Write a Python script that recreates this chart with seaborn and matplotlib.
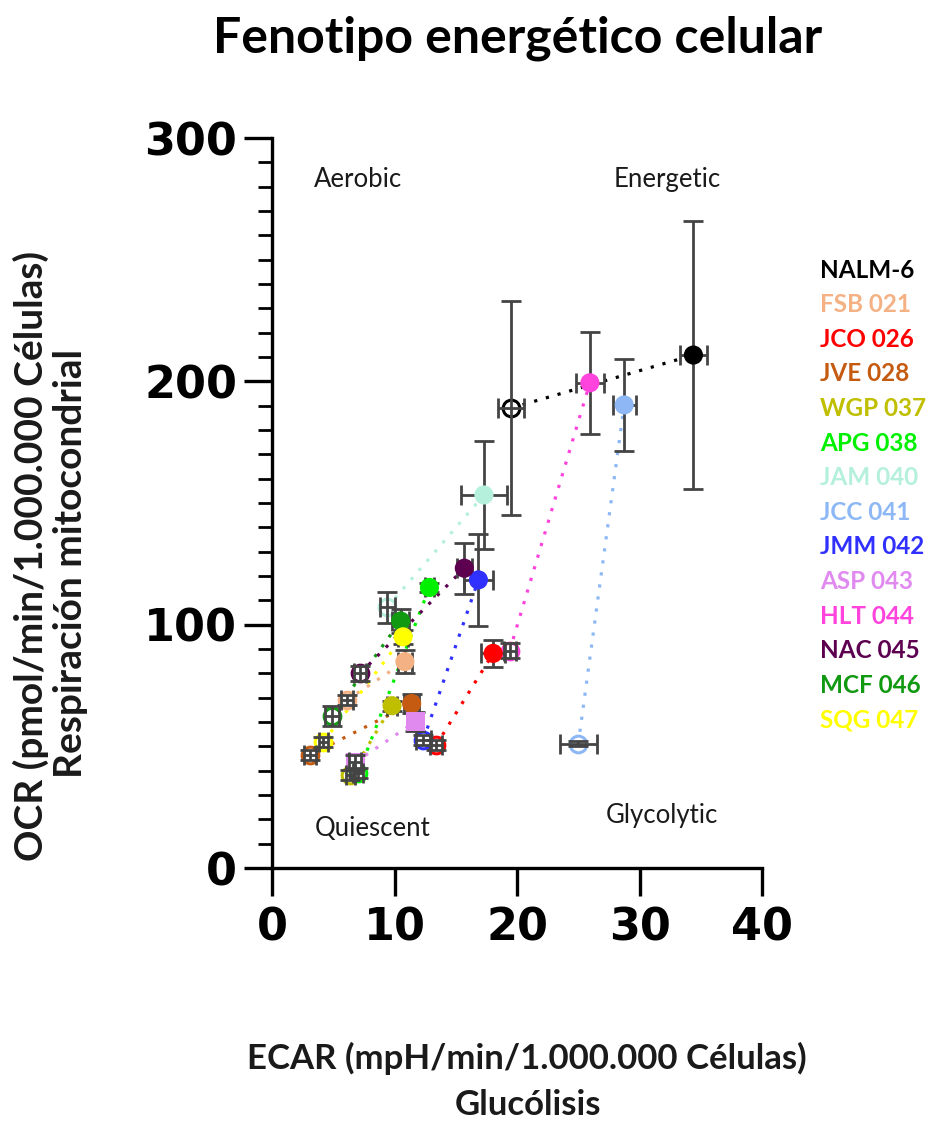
import numpy as np
import pandas as pd
import matplotlib
matplotlib.use("Agg")
import matplotlib.pyplot as plt
import seaborn as sns

# ---- data ----
lineas = ["NALM-6", "FSB 021", "JCO 026", "JVE 028", "WGP 037", "APG 038", "JAM 040",
          "JCC 041", "JMM 042", "ASP 043", "HLT 044", "NAC 045", "MCF 046", "SQG 047"]
colores = ["#000000", "#F4B183", "#FF0000", "#C55A11", "#BFBF00", "#00F000", "#B4F0DC",
           "#8DB8F5", "#3030FF", "#E08AF0", "#FF44DD", "#5C004F", "#119911", "#FFFF00"]
marcadores = ["o", "o", "o", "o", "o", "o", "o", "o", "o", "s", "o", "o", "o", "o"]

# basal (open markers)
ecar_basal = [19.5, 6.1, 13.4, 3.1, 6.4, 7.05, 9.4, 25.0, 12.35, 6.8, 19.4, 7.2, 4.9, 4.2]
ocr_basal = [189.0, 69.0, 50.5, 46.4, 38.2, 38.9, 107.1, 51.0, 52.6, 43.5, 89.3, 80.0, 62.5, 51.9]
ecar_basal_err = [1.05, 0.5, 0.5, 0.5, 0.4, 0.4, 0.6, 1.5, 0.6, 0.5, 0.5, 0.5, 0.6, 0.4]
ocr_basal_err = [44.0, 2.0, 2.0, 2.0, 2.0, 2.0, 6.5, 1.0, 2.0, 3.0, 3.0, 3.0, 4.0, 2.0]

# stressed (filled markers)
ecar_estres = [34.4, 10.85, 18.05, 11.4, 9.8, 12.85, 17.3, 28.75, 16.85, 11.7, 25.95, 15.7, 10.5, 10.7]
ocr_estres = [210.8, 84.8, 88.2, 67.6, 66.7, 115.3, 153.3, 190.3, 118.4, 60.1, 199.4, 123.2, 101.5, 95.0]
ecar_estres_err = [1.1, 0.6, 0.95, 0.6, 0.4, 0.4, 1.9, 0.95, 1.2, 0.6, 1.15, 0.6, 0.7, 0.4]
ocr_estres_err = [55.0, 4.8, 5.6, 4.0, 2.0, 2.0, 22.0, 19.0, 19.0, 4.0, 21.0, 10.5, 5.0, 3.0]

x_ticks = [0, 10, 20, 30, 40]
y_ticks = [0, 100, 200, 300]

titulo = "Fenotipo energético celular"
xlab = ["ECAR (mpH/min/1.000.000 Células)", "Glucólisis"]
ylab = ["OCR (pmol/min/1.000.000 Células)", "Respiración mitocondrial"]
cuadrantes = [("Aerobic", 7.0, 282.8), ("Energetic", 32.3, 282.8),
              ("Quiescent", 8.2, 16.4), ("Glycolytic", 31.8, 21.4)]

# ---- style ----
sns.set_style("ticks")
plt.rcParams["font.family"] = ["Lato", "DejaVu Sans"]
plt.rcParams["text.color"] = "black"
plt.rcParams["xtick.color"] = "black"
plt.rcParams["ytick.color"] = "black"

fig = plt.figure(figsize=(9.33, 11.23), dpi=100)
ax = fig.add_axes([272 / 933, 1 - 868 / 1123, 490 / 933, 730 / 1123])

pal = dict(zip(lineas, colores))
mk = dict(zip(lineas, marcadores))

df = pd.DataFrame({
    "linea": lineas,
    "ecar_b": ecar_basal, "ocr_b": ocr_basal,
    "ecar_b_err": ecar_basal_err, "ocr_b_err": ocr_basal_err,
    "ecar_e": ecar_estres, "ocr_e": ocr_estres,
    "ecar_e_err": ecar_estres_err, "ocr_e_err": ocr_estres_err,
})

long = pd.concat([
    pd.DataFrame({"linea": lineas, "ECAR": ecar_basal, "OCR": ocr_basal, "orden": 0}),
    pd.DataFrame({"linea": lineas, "ECAR": ecar_estres, "OCR": ocr_estres, "orden": 1}),
]).sort_values(["linea", "orden"]).reset_index(drop=True)

# dotted connectors
sns.lineplot(data=long, x="ECAR", y="OCR", hue="linea", palette=pal, estimator=None,
             sort=False, legend=False, lw=2.3, linestyle=(0, (1, 2.8)), ax=ax, zorder=1)

# open markers (basal)
for i, r in df.iterrows():
    ax.plot(r["ecar_b"], r["ocr_b"], linestyle="none", marker=mk[r["linea"]], ms=12,
            mfc="white", mec=pal[r["linea"]], mew=2.2, zorder=2)

# error bars
ecol = "#444444"
ax.errorbar(df["ecar_b"], df["ocr_b"], xerr=df["ecar_b_err"], yerr=df["ocr_b_err"], fmt="none",
            ecolor=ecol, elinewidth=2.0, capsize=7, capthick=2.0, zorder=3)
ax.errorbar(df["ecar_e"], df["ocr_e"], xerr=df["ecar_e_err"], yerr=df["ocr_e_err"], fmt="none",
            ecolor=ecol, elinewidth=2.0, capsize=7, capthick=2.0, zorder=3)

# filled markers (stressed)
sns.scatterplot(data=df, x="ecar_e", y="ocr_e", hue="linea", style="linea", palette=pal,
                markers=mk, s=190, linewidth=0, legend=False, ax=ax, zorder=4)

# axes
ax.set_xlim(0, 40)
ax.set_ylim(0, 300)
ax.set_xticks(x_ticks)
ax.set_yticks(y_ticks)
ax.set_yticks(np.arange(0, 301, 10), minor=True)
ax.set_xlabel("")
ax.set_ylabel("")
for s in ["top", "right"]:
    ax.spines[s].set_visible(False)
for s in ["left", "bottom"]:
    ax.spines[s].set_linewidth(2.4)
    ax.spines[s].set_color("black")
ax.tick_params(axis="both", which="major", length=20, width=2.4, color="black")
ax.tick_params(axis="y", which="minor", length=10, width=2.0, color="black")
ax.tick_params(axis="x", which="major", pad=8)
ax.tick_params(axis="y", which="major", pad=5)
for lab in ax.get_xticklabels() + ax.get_yticklabels():
    lab.set_fontfamily("DejaVu Sans")
    lab.set_fontweight("bold")
    lab.set_fontsize(32)
    lab.set_color("black")

for txt, x, y in cuadrantes:
    ax.text(x, y, txt, ha="center", va="center", fontsize=18.5, color="#1a1a1a")

# title and axis labels
fig.text(518 / 933, 1 - 38 / 1123, titulo, ha="center", va="center", fontsize=36,
         fontweight="bold")
fig.text(527 / 933, 1 - 1058 / 1123, xlab[0], ha="center", va="center", fontsize=25,
         fontweight="bold", color="#1a1a1a")
fig.text(528 / 933, 1 - 1105 / 1123, xlab[1], ha="center", va="center", fontsize=25,
         fontweight="bold", color="#1a1a1a")
fig.text(31 / 933, 1 - 556 / 1123, ylab[0], ha="center", va="center", rotation=90,
         fontsize=28, fontweight="bold", color="#1a1a1a")
fig.text(71 / 933, 1 - 563 / 1123, ylab[1], ha="center", va="center", rotation=90,
         fontsize=28, fontweight="bold", color="#1a1a1a")

# colored label list
for i, (nm, c) in enumerate(zip(lineas, colores)):
    fig.text(820 / 933, 1 - (270 + 34.6 * i) / 1123, nm, ha="left", va="center",
             fontsize=17.5, fontweight="bold", color=c)

fig.savefig("out.png", dpi=100)
